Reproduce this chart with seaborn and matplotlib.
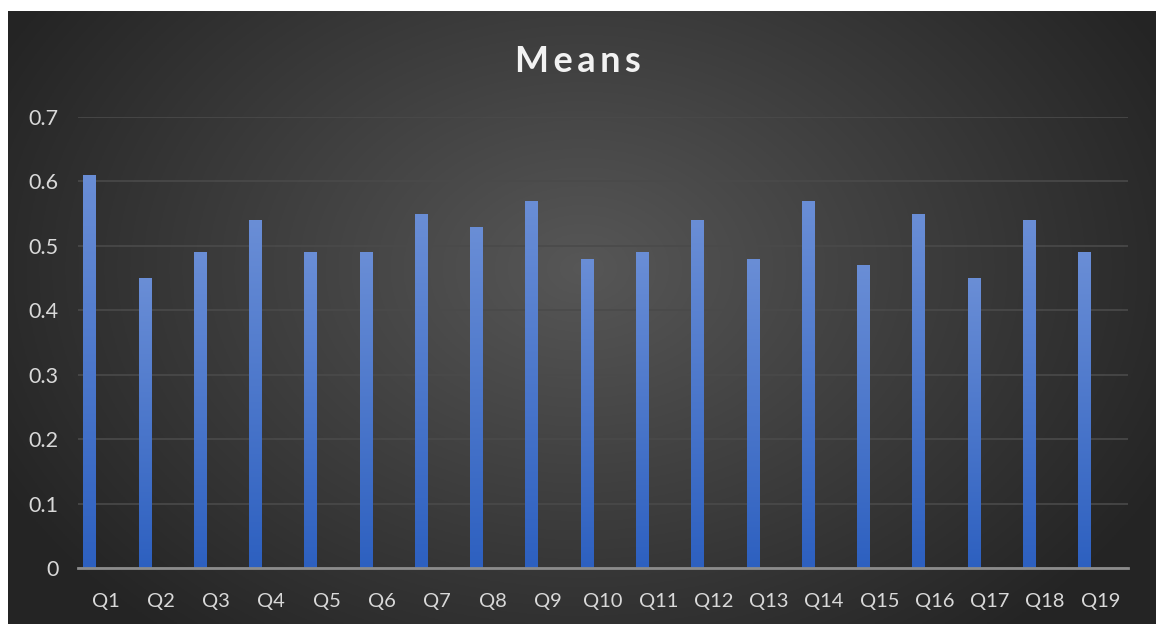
import numpy as np
import pandas as pd
import matplotlib
matplotlib.use("Agg")
import matplotlib.pyplot as plt
import seaborn as sns

questions = [f"Q{i}" for i in range(1, 20)]
means = [0.61, 0.45, 0.49, 0.54, 0.49, 0.49, 0.55, 0.53, 0.57, 0.48,
         0.49, 0.54, 0.48, 0.57, 0.47, 0.55, 0.45, 0.54, 0.49]
y_ticks = [0, 0.1, 0.2, 0.3, 0.4, 0.5, 0.6, 0.7]
y_tick_labels = ["0", "0.1", "0.2", "0.3", "0.4", "0.5", "0.6", "0.7"]

# Excel-style clustered layout: an empty second series slot pushes the bars left
df_main = pd.DataFrame({"Question": questions, "Mean": means, "Series": "Mean"})
df_blank = pd.DataFrame({"Question": questions, "Mean": [0.0] * len(questions),
                         "Series": "(blank)"})
df = pd.concat([df_main, df_blank], ignore_index=True)

sns.set_style("dark")
plt.rcParams['font.family'] = ['Lato', 'DejaVu Sans']

W, H = 1156, 624
fig = plt.figure(figsize=(W / 100, H / 100), dpi=100, facecolor="white")

# dark radial-gradient panel behind the chart
bg = fig.add_axes([8 / W, 0, 1 - 8 / W, 1 - 11 / H])
yy, xx = np.mgrid[0:1:300j, 0:1:600j]
r = np.sqrt(((xx - 0.5) / 0.55) ** 2 + ((yy - 0.42) / 0.75) ** 2)
shade = np.clip(0.34 - 0.19 * r, 0.145, 0.345)
bg.imshow(np.dstack([shade] * 3), aspect="auto", extent=[0, 1, 0, 1], origin="upper")
bg.set_axis_off()

ax = fig.add_axes([78 / W, (H - 568) / H, (1128 - 78) / W, (568 - 117) / H])
ax.set_facecolor("none")
sns.barplot(data=df, x="Question", y="Mean", hue="Series", hue_order=["Mean", "(blank)"],
            palette={"Mean": "#4a78cc", "(blank)": "#4a78cc"}, ax=ax,
            width=1.144, gap=0.59, saturation=1, linewidth=0, legend=False, zorder=3)

# vertical gradient fill inside each bar
grad = np.linspace(0, 1, 256).reshape(-1, 1)
top = np.array([0x6a, 0x8e, 0xd6]) / 255
bot = np.array([0x2d, 0x60, 0xc0]) / 255
grad_img = bot + (top - bot) * grad[..., None]
for p in ax.patches:
    x0, y0 = p.get_x(), p.get_y()
    w, h = p.get_width(), p.get_height()
    p.set_facecolor("none")
    p.set_edgecolor("none")
    p.set_linewidth(0)
    if not np.isfinite(h) or h == 0:
        continue
    im = ax.imshow(grad_img, extent=[x0, x0 + w, y0, y0 + h], origin="lower",
                   aspect="auto", zorder=3)
    im.set_clip_path(p)

ax.set_xlim(-0.5, len(questions) - 0.5)
ax.set_ylim(0, 0.7)
ax.set_yticks(y_ticks)
ax.set_yticklabels(y_tick_labels)
ax.yaxis.grid(True, color="#4a4a4a", linewidth=1.2, zorder=0)
ax.xaxis.grid(False)
for s in ["top", "right", "left"]:
    ax.spines[s].set_visible(False)
ax.spines["bottom"].set_color("#8c8c8c")
ax.spines["bottom"].set_linewidth(2)
ax.spines["bottom"].set_zorder(4)
ax.tick_params(axis="both", length=0, colors="#d9d9d9")
ax.tick_params(axis="y", pad=14, labelsize=15.5)
ax.tick_params(axis="x", pad=18, labelsize=14.5)
ax.set_xlabel("")
ax.set_ylabel("")

fig.text(0.5, 1 - 61 / H, "\u2009".join("Means"), ha="center", va="center",
         color="#f2f2f2", fontsize=26, fontweight="bold")

fig.savefig("out.png", dpi=100, facecolor="white")
